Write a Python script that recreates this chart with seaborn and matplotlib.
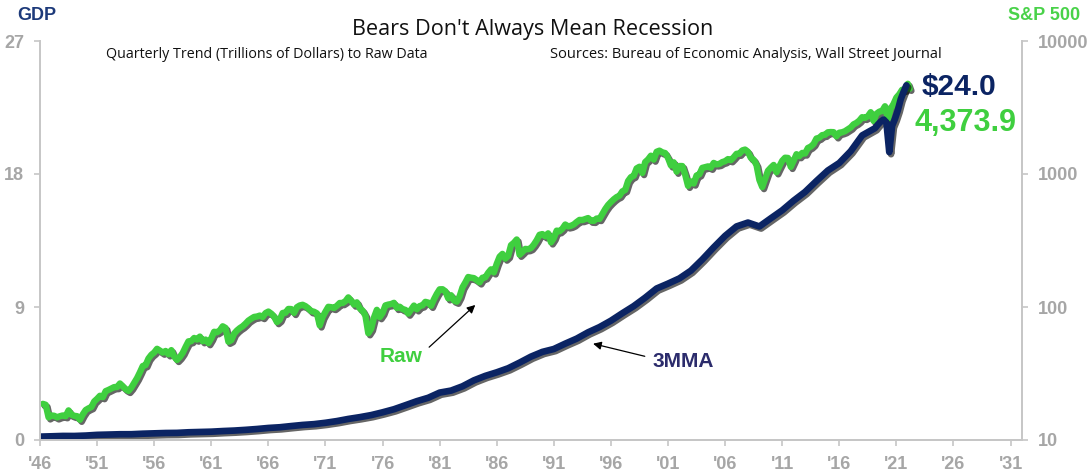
import matplotlib
matplotlib.use("Agg")
import matplotlib.pyplot as plt
import seaborn as sns
import numpy as np
import pandas as pd
from matplotlib import patheffects as pe

# ---------------- data ----------------
# Nominal GDP, trillions of dollars (annual 1946-2018)
gdp_years = list(range(1946, 2019))
gdp_annual = [0.228, 0.250, 0.275, 0.272, 0.300, 0.348, 0.368, 0.389, 0.391, 0.426,
              0.450, 0.474, 0.482, 0.522, 0.543, 0.563, 0.605, 0.638, 0.686, 0.744,
              0.815, 0.862, 0.943, 1.019, 1.073, 1.165, 1.280, 1.425, 1.545, 1.685,
              1.873, 2.082, 2.352, 2.627, 2.857, 3.207, 3.344, 3.634, 4.037, 4.339,
              4.580, 4.855, 5.236, 5.642, 5.963, 6.158, 6.520, 6.859, 7.287, 7.640,
              8.073, 8.578, 9.063, 9.631, 10.251, 10.582, 10.936, 11.458, 12.214, 13.037,
              13.815, 14.452, 14.713, 14.449, 15.000, 15.543, 16.197, 16.785, 17.527, 18.238,
              18.745, 19.543, 20.612]
# quarterly GDP 2019Q1 - 2021Q4
gdp_recent_quarters = [2019.125, 2019.375, 2019.625, 2019.875,
                       2020.125, 2020.375, 2020.625, 2020.875,
                       2021.125, 2021.375, 2021.625, 2021.875]
gdp_recent = [21.10, 21.34, 21.54, 21.69, 21.48, 19.48, 21.26, 21.73, 22.31, 23.05, 23.55, 24.00]

# S&P 500 quarter-end closes, 1946Q1 .. 2021Q4, then Feb 2022
sp_start_year = 1946
sp500_quarterly = [
    18.7, 18.4, 14.8, 15.3,   15.2, 14.8, 15.1, 15.3,   15.1, 16.7, 15.5, 15.2,
    15.1, 14.2, 15.6, 16.8,   17.3, 17.7, 19.5, 20.4,   21.5, 21.0, 23.3, 23.8,
    24.4, 25.0, 25.0, 26.6,   25.3, 24.1, 23.4, 24.8,   26.9, 29.2, 32.3, 36.0,
    36.6, 41.0, 43.7, 45.5,   48.5, 47.0, 45.4, 46.7,   44.1, 47.4, 42.4, 40.0,
    42.1, 45.2, 50.1, 55.2,   55.4, 58.5, 56.9, 59.9,   55.3, 56.9, 53.5, 58.1,
    65.1, 64.6, 66.7, 71.6,   69.6, 54.8, 56.3, 63.1,   66.6, 69.4, 71.7, 75.0,
    79.0, 81.7, 84.2, 84.8,   86.2, 84.1, 90.0, 92.4,   89.2, 84.7, 77.0, 80.3,
    90.2, 90.6, 96.7, 96.5,   90.2, 99.6, 102.7, 103.9, 101.5, 97.7, 93.1, 92.1,
    89.6, 72.7, 84.2, 92.2,   100.3, 99.7, 98.3, 102.1, 107.2, 107.1, 110.6, 118.1,
    111.5, 104.3, 108.4, 97.6, 94.0, 86.0, 63.5, 68.6,  83.4, 95.2, 83.9, 90.2,
    102.8, 104.3, 105.2, 107.5, 98.4, 100.5, 96.5, 95.1, 89.2, 95.5, 102.5, 96.1,
    101.6, 102.9, 109.3, 107.9, 102.1, 114.2, 125.5, 135.8, 136.0, 131.2, 116.2, 122.6,
    112.0, 109.6, 120.4, 140.6, 153.0, 168.1, 166.1, 164.9, 159.2, 153.2, 166.1, 167.2,
    180.7, 191.9, 182.1, 211.3, 238.9, 250.8, 231.3, 242.2, 291.7, 304.0, 321.8, 247.1,
    258.9, 273.5, 271.9, 277.7, 294.9, 318.0, 349.2, 353.4, 339.9, 358.0, 306.1, 330.2,
    375.2, 371.2, 387.9, 417.1, 403.7, 408.1, 417.8, 435.7, 451.7, 450.5, 458.9, 466.5,
    445.8, 444.3, 462.7, 459.3, 500.7, 544.8, 584.4, 615.9, 645.5, 670.6, 687.3, 740.7,
    757.1, 885.1, 947.3, 970.4, 1101.8, 1133.8, 1017.0, 1229.2, 1286.4, 1372.7, 1282.7, 1469.3,
    1498.6, 1454.6, 1436.5, 1320.3, 1160.3, 1224.4, 1040.9, 1148.1, 1147.4, 989.8, 815.3, 879.8,
    848.2, 974.5, 996.0, 1111.9, 1126.2, 1140.8, 1114.6, 1211.9, 1180.6, 1191.3, 1228.8, 1248.3,
    1294.8, 1270.2, 1335.9, 1418.3, 1420.9, 1503.4, 1526.8, 1468.4, 1322.7, 1280.0, 1166.4, 903.3,
    797.9, 919.3, 1057.1, 1115.1, 1169.4, 1030.7, 1141.2, 1257.6, 1325.8, 1320.6, 1131.4, 1257.6,
    1408.5, 1362.2, 1440.7, 1426.2, 1569.2, 1606.3, 1681.6, 1848.4, 1872.3, 1960.2, 1972.3, 2058.9,
    2067.9, 2063.1, 1920.0, 2043.9, 2059.7, 2098.9, 2168.3, 2238.8, 2362.7, 2423.4, 2519.4, 2673.6,
    2640.9, 2718.4, 2914.0, 2506.9, 2834.4, 2941.8, 2976.7, 3230.8, 2584.6, 3100.3, 3363.0, 3756.1,
    3972.9, 4297.5, 4307.5, 4766.2]
sp_last_date = 2022.16
sp_last_value = 4373.9

x_tick_years = list(range(1946, 2032, 5))
x_tick_labels = ["'" + str(y)[2:] for y in x_tick_years]
gdp_ticks = [0, 9, 18, 27]
sp_ticks = [10, 100, 1000, 10000]

# ---------------- frames ----------------
gdp_df = pd.DataFrame({
    "year": gdp_years + gdp_recent_quarters,
    "gdp": gdp_annual + gdp_recent,
})
sp_x = list(sp_start_year + 0.25 * (np.arange(len(sp500_quarterly)) + 1)) + [sp_last_date]
sp_df = pd.DataFrame({"year": sp_x, "sp": sp500_quarterly + [sp_last_value]})

# ---------------- style ----------------
sns.set_theme(style="white")
plt.rcParams["font.family"] = ["Liberation Sans", "DejaVu Sans"]

GREEN = "#3fcf3f"
NAVY = "#0b2463"
GRAY = "#a6a6a6"
SPINE = "#c6c6c6"

fig = plt.figure(figsize=(10.92, 4.74), dpi=100)
fig.patch.set_facecolor("white")
ax = fig.add_axes([40 / 1092, 34 / 474, 982 / 1092, 399 / 474])
ax2 = ax.twinx()

shadow = [pe.SimpleLineShadow(offset=(1.3, -1.5), shadow_color="black", alpha=0.6), pe.Normal()]

sns.lineplot(data=sp_df, x="year", y="sp", ax=ax2, color=GREEN, lw=4.6,
             path_effects=shadow, estimator=None)
sns.lineplot(data=gdp_df, x="year", y="gdp", ax=ax, color=NAVY, lw=4.8,
             path_effects=shadow, estimator=None)

ax.set_zorder(ax2.get_zorder() + 1)
ax.patch.set_visible(False)

ax.set_xlim(1946, 2032)
ax.set_ylim(0, 27)
ax2.set_yscale("log")
ax2.set_ylim(10, 10000)

ax.set_xticks(x_tick_years)
ax.set_xticklabels(x_tick_labels)
ax.set_yticks(gdp_ticks)
ax.set_yticklabels([str(t) for t in gdp_ticks])
ax2.set_yticks(sp_ticks)
ax2.set_yticklabels([str(t) for t in sp_ticks])
ax2.yaxis.set_minor_locator(matplotlib.ticker.NullLocator())

for a in (ax, ax2):
    a.set_xlabel("")
    a.set_ylabel("")
    a.spines["top"].set_visible(False)
    for s in ("left", "right", "bottom"):
        a.spines[s].set_color(SPINE)
        a.spines[s].set_linewidth(1.4)
ax.spines["right"].set_visible(False)
ax2.spines["left"].set_visible(False)

tick_kw = dict(colors=SPINE, labelcolor=GRAY, labelsize=13, length=4.5, width=1.2, pad=7)
ax.tick_params(axis="x", direction="out", bottom=True, **tick_kw)
ax.tick_params(axis="y", direction="out", left=True, **tick_kw)
ax2.tick_params(axis="y", direction="out", right=True, **tick_kw)
for lab in ax.get_xticklabels() + ax.get_yticklabels() + ax2.get_yticklabels():
    lab.set_fontweight("bold")

# ---------------- texts ----------------
fig.text(533 / 1092, 1 - 29 / 474, "Bears Don't Always Mean Recession", ha="center", va="center",
         fontsize=15.6, family=["Open Sans", "DejaVu Sans"], color="#111111")
fig.text(106 / 1092, 1 - 54 / 474, "Quarterly Trend (Trillions of Dollars) to Raw Data", ha="left",
         va="center", fontsize=10.3, family=["Open Sans", "DejaVu Sans"], color="#111111")
fig.text(550 / 1092, 1 - 54 / 474, "Sources: Bureau of Economic Analysis, Wall Street Journal",
         ha="left", va="center", fontsize=10.5, family=["Open Sans", "DejaVu Sans"], color="#111111")
fig.text(17 / 1092, 1 - 16 / 474, "GDP", ha="left", va="center", fontsize=13, fontweight="bold",
         color="#1d3a7a")
fig.text(1080 / 1092, 1 - 16 / 474, "S&P 500", ha="right", va="center", fontsize=13,
         fontweight="bold", color="#49d249")

ax.text(2023.2, 23.9, "$24.0", ha="left", va="center", fontsize=21.5, fontweight="bold", color=NAVY)
ax.text(2022.6, 21.45, "4,373.9", ha="left", va="center", fontsize=22, fontweight="bold", color=GREEN)

ax2.annotate("", xy=(1984.3, 107), xytext=(1979.9, 48.3),
             arrowprops=dict(arrowstyle="-|>", color="black", lw=0.9, mutation_scale=12))
ax2.text(1977.6, 42.1, "Raw", ha="center", va="center", fontsize=15, fontweight="bold", color=GREEN)
ax.annotate("", xy=(1994.2, 6.56), xytext=(1999.2, 5.62),
            arrowprops=dict(arrowstyle="-|>", color="black", lw=0.9, mutation_scale=12))
ax.text(2002.3, 5.28, "3MMA", ha="center", va="center", fontsize=15, fontweight="bold",
        color="#2c2c6c")

fig.savefig("out.png", dpi=100, facecolor="white")
